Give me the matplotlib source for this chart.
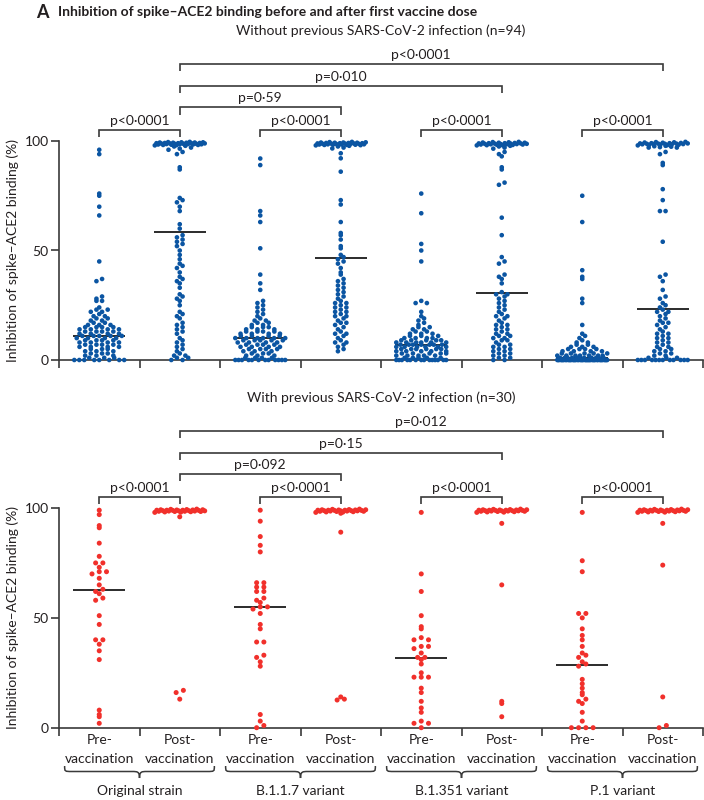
import numpy as np
import matplotlib
matplotlib.use("Agg")
import matplotlib.pyplot as plt
from matplotlib.path import Path
from matplotlib.patches import PathPatch
import matplotlib.transforms as mtransforms

plt.rcParams['font.family'] = ['Lato', 'DejaVu Sans']

# ---------------- data ----------------
vacc_labels = ['Pre-', 'Post-']
strains = ['Original strain', 'B.1.1.7 variant', 'B.1.351 variant', 'P.1 variant']

title_text = 'Inhibition of spike\u2013ACE2 binding before and after first vaccine dose'
naive_title = 'Without previous SARS-CoV-2 infection (n=94)'
prev_title = 'With previous SARS-CoV-2 infection (n=30)'
ylabel_text = 'Inhibition of spike\u2013ACE2 binding (%)'

# Without previous infection (n=94 each)
naive_orig_pre = [96, 94, 76, 75, 70, 66, 45, 37, 36, 29, 28, 27, 27, 24, 23, 23, 22, 22, 21, 20,
                  20, 19, 19, 18, 18, 17, 17, 16, 16, 16, 15, 15, 15, 15, 14, 14, 14, 14, 13, 13,
                  13, 13, 12, 12, 12, 12, 11, 11, 11, 11, 11, 10, 10, 10, 10, 9, 9, 9, 9, 8,
                  8, 8, 8, 7, 7, 7, 7, 6, 6, 6, 6, 5, 5, 5, 4, 4, 4, 3, 3, 3,
                  2, 2, 2, 1, 1, 1, 0, 0, 0, 0, 0, 0, 0, 0]
naive_orig_post = [99.6, 99.5, 99.4, 99.4, 99.3, 99.3, 99.2, 99.2, 99.1, 99.1, 99.0, 99.0, 99.0,
                   98.9, 98.9, 98.8, 98.8, 98.7, 98.7, 98.6, 98.6, 98.5, 98.5, 98.4, 98.4, 98.3,
                   98.3, 98.2, 98.2, 98.1, 98.0, 97.8, 97.5, 97.0, 96.5, 96.0, 95.0, 94.0,
                   88, 87, 74, 73, 72, 70, 68, 62, 60,
                   57, 56, 55, 54, 53, 52, 50, 48, 46, 44, 43, 42, 40, 38, 37, 36, 35, 33, 30, 29,
                   28, 27, 25, 22, 21, 20, 19, 17, 16, 15, 14, 13, 12, 10, 9, 8, 7, 6, 5, 4,
                   3, 2, 2, 1, 1, 0, 0]
naive_b117_pre = [92, 89, 68, 66, 63, 51, 39, 35, 32, 27, 26, 25, 24, 23, 22, 21, 20, 19, 18, 18,
                  17, 17, 16, 16, 15, 15, 15, 14, 14, 14, 13, 13, 13, 13, 12, 12, 12, 12, 11, 11,
                  11, 11, 10, 10, 10, 10, 10, 10, 9, 9, 9, 9, 9, 8, 8, 8, 8, 7, 7, 7,
                  7, 6, 6, 6, 6, 5, 5, 5, 5, 4, 4, 4, 3, 3, 3, 2, 2, 2, 1, 1,
                  1, 1, 0, 0, 0, 0, 0, 0, 0, 0, 0, 0, 0, 0]
naive_b117_post = [99.6, 99.5, 99.4, 99.3, 99.3, 99.2, 99.2, 99.1, 99.1, 99.0, 99.0, 98.9, 98.9,
                   98.8, 98.8, 98.7, 98.7, 98.6, 98.6, 98.5, 98.5, 98.4, 98.4, 98.3, 98.3, 98.2,
                   98.2, 98.1, 98.0, 98.0, 97.8, 97.5, 97.0, 96.6, 94.4, 92.1,
                   86, 73, 71, 63, 58, 57, 55, 52, 51, 48, 47,
                   46, 45, 44, 42, 40, 39, 37, 36, 35, 34, 33, 32, 31, 30, 29, 28, 27, 26, 26, 25,
                   24, 24, 23, 22, 22, 21, 20, 20, 19, 18, 17, 17, 16, 15, 14, 13, 12, 12, 11, 10,
                   9, 8, 8, 7, 6, 5, 4]
naive_b1351_pre = [76, 67, 53, 50, 45, 27, 26, 26, 22, 20, 19, 18, 17, 16, 15, 15, 14, 14, 13, 13,
                   12, 12, 12, 11, 11, 11, 10, 10, 10, 10, 9, 9, 9, 9, 9, 8, 8, 8, 8, 8,
                   8, 7, 7, 7, 7, 7, 7, 7, 6, 6, 6, 6, 6, 6, 5, 5, 5, 5, 5, 5,
                   4, 4, 4, 4, 4, 3, 3, 3, 3, 3, 2, 2, 2, 2, 2, 1, 1, 1, 1, 1,
                   0, 0, 0, 0, 0, 0, 0, 0, 0, 0, 0, 0, 0, 0]
naive_b1351_post = [99.6, 99.5, 99.4, 99.3, 99.2, 99.2, 99.1, 99.0, 99.0, 98.9, 98.9, 98.8, 98.8,
                    98.7, 98.7, 98.6, 98.6, 98.5, 98.5, 98.4, 98.4, 98.3, 98.2, 98.1, 98.0, 98.0,
                    97.8, 97.5, 97.0, 96.5, 95.0, 94.0, 93.0,
                    88, 87, 81, 80, 65, 57, 47, 45, 44, 39, 38, 37, 35,
                    31, 30, 30, 29, 28, 27, 26, 25, 24, 23, 22, 21, 20, 20, 19, 18, 17, 16, 16, 15,
                    14, 14, 13, 12, 12, 11, 11, 10, 10, 9, 9, 8, 7, 7, 6, 6, 5, 5, 4, 4,
                    3, 3, 2, 2, 1, 1, 0, 0]
naive_p1_pre = [75, 63, 41, 38, 37, 28, 26, 16, 12, 11, 10, 9, 8, 8, 7, 7, 6, 6, 6, 5,
                5, 5, 5, 4, 4, 4, 4, 3, 3, 3, 3, 3, 2, 2, 2, 2, 2, 2, 2, 1,
                1, 1, 1, 1, 1, 1, 1, 1, 1, 1, 0, 0, 0, 0, 0, 0, 0, 0, 0, 0,
                0, 0, 0, 0, 0, 0, 0, 0, 0, 0, 0, 0, 0, 0, 0, 0, 0, 0, 0, 0,
                0, 0, 0, 0, 0, 0, 0, 0, 0, 0, 0, 0, 0, 0]
naive_p1_post = [99.6, 99.5, 99.4, 99.3, 99.2, 99.1, 99.0, 99.0, 98.9, 98.9, 98.8, 98.8, 98.7,
                 98.7, 98.6, 98.6, 98.5, 98.5, 98.4, 98.3, 98.2, 98.1, 98.0, 97.8, 97.6, 97.4,
                 97.2, 97.0, 97.0, 95.0, 94.0,
                 90, 89, 78, 73, 68, 68, 54, 39, 38, 36, 32, 29, 28, 26, 25, 24,
                 23, 22, 22, 21, 20, 19, 18, 17, 17, 16, 15, 14, 13, 12, 12, 11, 10, 10, 9, 8,
                 8, 7, 6, 6, 5, 5, 4, 4, 3, 3, 2, 2, 1, 1, 1, 0, 0, 0, 0, 0,
                 0, 0, 0, 0, 0, 0, 0]

# With previous infection (n=30 each)
prev_orig_pre = [99, 97, 92, 91, 84, 78, 75, 75, 73, 71, 71, 70, 68, 65, 63, 62, 61, 59, 58, 51,
                 47, 40, 40, 38, 35, 31, 8, 6, 5, 2]
prev_orig_post = [99.5, 99.4, 99.3, 99.2, 99.2, 99.1, 99.1, 99.0, 99.0, 99.0, 98.9, 98.9, 98.8,
                  98.8, 98.7, 98.7, 98.6, 98.6, 98.5, 98.5, 98.4, 98.4, 98.3, 98.2, 98.1, 98.0,
                  96, 17, 16, 13]
prev_b117_pre = [99, 94, 87, 83, 80, 66, 66, 64, 64, 62, 62, 59, 58, 57, 55, 55, 54, 52, 47, 45,
                 39, 39, 33, 32, 30, 28, 6, 3, 1, 0]
prev_b117_post = [99.5, 99.4, 99.3, 99.2, 99.2, 99.1, 99.1, 99.0, 99.0, 99.0, 98.9, 98.9, 98.8,
                  98.8, 98.7, 98.7, 98.6, 98.6, 98.5, 98.5, 98.4, 98.3, 98.2, 98.1, 98.0,
                  97.6, 89, 14, 13, 12.6]
prev_b1351_pre = [98, 70, 62, 51, 46, 45, 41, 40, 40, 37, 37, 36, 34, 32, 32, 31, 29, 25, 23, 23,
                  23, 18, 16, 12, 9, 7, 3, 2, 2, 0]
prev_b1351_post = [99.5, 99.4, 99.3, 99.2, 99.2, 99.1, 99.1, 99.0, 99.0, 99.0, 98.9, 98.9, 98.8,
                   98.8, 98.7, 98.7, 98.6, 98.6, 98.5, 98.5, 98.4, 98.3, 98.2, 98.1, 98.0,
                   93, 65, 12, 11, 5]
prev_p1_pre = [98, 76, 71, 52, 52, 50, 45, 42, 40, 37, 34, 33, 32, 30, 29, 28, 22, 20, 18, 16,
               15, 13, 12, 11, 7, 3, 0, 0, 0, 0]
prev_p1_post = [99.5, 99.4, 99.3, 99.2, 99.2, 99.1, 99.1, 99.0, 99.0, 99.0, 98.9, 98.9, 98.8,
                98.8, 98.7, 98.7, 98.6, 98.6, 98.5, 98.5, 98.4, 98.3, 98.2, 98.1, 98.0,
                93, 74, 14, 1, 0]

naive_groups = [naive_orig_pre, naive_orig_post, naive_b117_pre, naive_b117_post,
                naive_b1351_pre, naive_b1351_post, naive_p1_pre, naive_p1_post]
prev_groups = [prev_orig_pre, prev_orig_post, prev_b117_pre, prev_b117_post,
               prev_b1351_pre, prev_b1351_post, prev_p1_pre, prev_p1_post]

naive_pair_p = ['p<0\u00b70001', 'p<0\u00b70001', 'p<0\u00b70001', 'p<0\u00b70001']
naive_cross_p = ['p=0\u00b759', 'p=0\u00b7010', 'p<0\u00b70001']
prev_pair_p = ['p<0\u00b70001', 'p<0\u00b70001', 'p<0\u00b70001', 'p<0\u00b70001']
prev_cross_p = ['p=0\u00b7092', 'p=0\u00b715', 'p=0\u00b7012']

# ---------------- style ----------------
W, H = 704, 800
blue = '#0b55a2'
red = '#f1302b'
axis_color = '#3a3a3a'
text_color = '#231f20'
FS = 10
PHI = 0.6180339887


def fy(px):
    return 1 - px / H


def swarm_offsets(vals, bin_h, dx, max_half):
    """Prism-like column scatter: values sharing a fixed y bin are laid side by side,
    compressed when the row would be wider than the column."""
    vals = np.asarray(vals, float)
    keys = np.floor(vals / bin_h).astype(int)
    offsets = np.zeros(len(vals))
    for key in np.unique(keys):
        idx = np.where(keys == key)[0]
        idx = idx[np.argsort(vals[idx], kind='stable')]
        n = len(idx)
        sp = dx if n <= 1 else min(dx, 2 * max_half / (n - 1))
        pos = (np.arange(n) - (n - 1) / 2) * sp
        mix = np.argsort((np.arange(n) * PHI) % 1.0, kind='stable')
        for k, j in enumerate(mix):
            offsets[idx[k]] = pos[j]
    return offsets


fig = plt.figure(figsize=(W / 100, H / 100), dpi=100)
ax_top = fig.add_axes([59 / W, fy(360), 644 / W, 219 / H])
ax_bot = fig.add_axes([59 / W, fy(727.7), 644 / W, 219.7 / H])


def style(ax):
    ax.set_xlim(-0.5, 7.5)
    ax.set_ylim(0, 100)
    for s in ['top', 'right']:
        ax.spines[s].set_visible(False)
    for s in ['left', 'bottom']:
        ax.spines[s].set_color(axis_color)
        ax.spines[s].set_linewidth(1.2)
    ax.set_yticks([0, 50, 100])
    ax.set_yticklabels(['0', '50', '100'])
    ax.set_xticks(np.arange(-0.5, 8, 1))
    ax.set_xticklabels([])
    ax.tick_params(axis='both', direction='out', length=5.5, width=1.2, color=axis_color,
                   labelsize=FS, labelcolor=text_color, pad=2)
    ax.set_ylabel(ylabel_text, fontsize=FS, color=text_color, labelpad=4)


def draw_panel(ax, groups, color, dx, bin_h, size):
    for i, vals in enumerate(groups):
        off = swarm_offsets(vals, bin_h, dx, 0.31)
        ax.scatter(i + off, vals, s=size, color=color, edgecolors='none', zorder=3, clip_on=False)
        med = np.median(vals)
        ax.hlines(med, i - 0.32, i + 0.32, color='#2b2b2b', lw=1.4, zorder=2)


def bracket(ax, x1, x2, y, text, drop=3.2):
    ax.plot([x1, x1, x2, x2], [y - drop, y, y, y - drop], color=axis_color, lw=1.2,
            clip_on=False, solid_joinstyle='miter', solid_capstyle='butt')
    ax.text((x1 + x2) / 2, y + 1.2, text, ha='center', va='bottom', fontsize=FS,
            color=text_color, clip_on=False)


def draw_brackets(ax, pair_p, cross_p):
    for k, t in enumerate(pair_p):
        bracket(ax, 2 * k, 2 * k + 1, 105, t, drop=3.0)
    for k, (t, yl) in enumerate(zip(cross_p, [115.5, 125.2, 135.2])):
        bracket(ax, 1, 2 * k + 3, yl, t, drop=3.4)


for ax in (ax_top, ax_bot):
    style(ax)

draw_panel(ax_top, naive_groups, blue, 0.07, 2.0, 11)
draw_panel(ax_bot, prev_groups, red, 0.09, 2.0, 13)
draw_brackets(ax_top, naive_pair_p, naive_cross_p)
draw_brackets(ax_bot, prev_pair_p, prev_cross_p)

xc = (59 + 703) / 2 / W
fig.text(xc, fy(31), naive_title, ha='center', va='center', fontsize=FS, color=text_color)
fig.text(xc, fy(398), prev_title, ha='center', va='center', fontsize=FS, color=text_color)

fig.text(36 / W, fy(12), 'A', ha='left', va='center', fontsize=13, fontweight='bold', color=text_color)
fig.text(58 / W, fy(12.5), title_text, ha='left', va='center', fontsize=FS, fontweight='bold',
         color=text_color)

# x labels, braces and strain names
trans = mtransforms.blended_transform_factory(ax_bot.transData, fig.transFigure)
for i in range(8):
    ax_bot.text(i, fy(740), vacc_labels[i % 2], transform=trans, ha='center', va='center',
                fontsize=FS, color=text_color, clip_on=False)
    ax_bot.text(i, fy(759), 'vaccination', transform=trans, ha='center', va='center',
                fontsize=FS, color=text_color, clip_on=False)

yt, ym, ytip = fy(766), fy(771.5), fy(778)
r = 0.09
for k, name in enumerate(strains):
    B = 2 * k + 0.5
    L, R = B - 0.93, B + 0.93
    verts = [(L, yt), (L, ym), (L, ym), (L + r, ym),
             (B - r, ym),
             (B - r * 0.3, ym), (B, ym), (B, ytip),
             (B, ym), (B + r * 0.3, ym), (B + r, ym),
             (R - r, ym),
             (R, ym), (R, ym), (R, yt)]
    codes = [Path.MOVETO, Path.CURVE4, Path.CURVE4, Path.CURVE4,
             Path.LINETO,
             Path.CURVE4, Path.CURVE4, Path.CURVE4,
             Path.CURVE4, Path.CURVE4, Path.CURVE4,
             Path.LINETO,
             Path.CURVE4, Path.CURVE4, Path.CURVE4]
    patch = PathPatch(Path(verts, codes), transform=trans, facecolor='none',
                      edgecolor=axis_color, lw=1.1, clip_on=False)
    ax_bot.add_artist(patch)
    ax_bot.text(B, fy(791), name, transform=trans, ha='center', va='center', fontsize=FS,
                color=text_color, clip_on=False)

fig.savefig('out.png', dpi=100)
